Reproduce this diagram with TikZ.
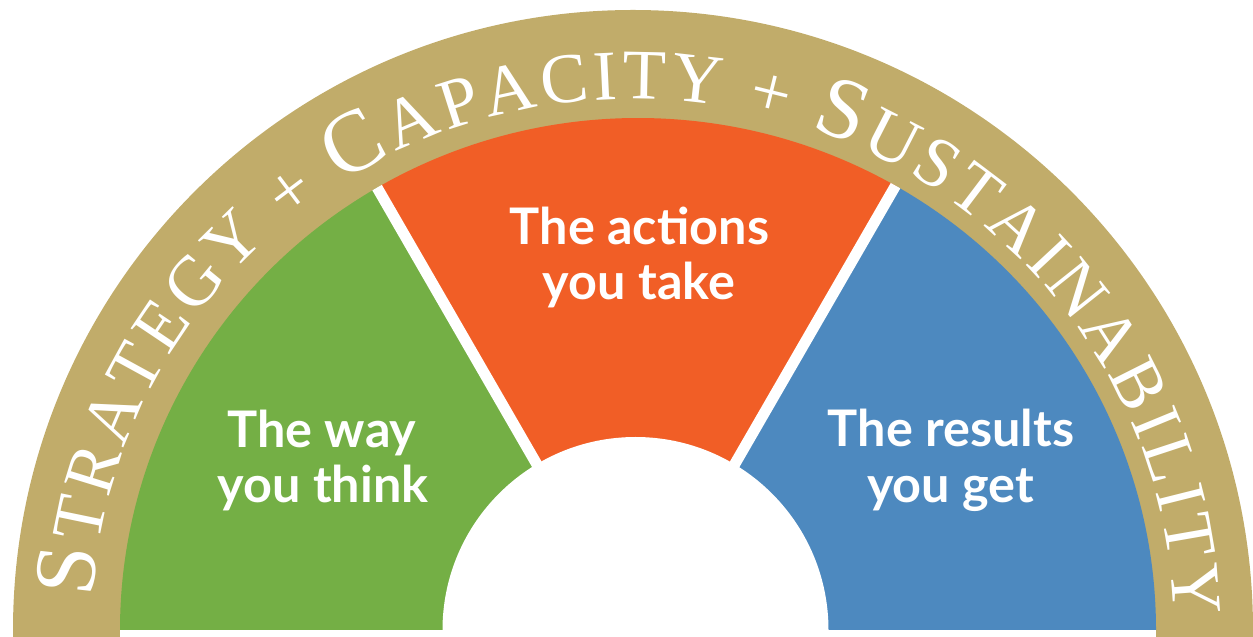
\documentclass[tikz,border=0pt]{standalone}
\usepackage{fontspec}
\setmainfont{Liberation Serif}
\newfontfamily\labelfont{Lato}
\usetikzlibrary{decorations.text,calc}
\definecolor{ringgold}{RGB}{193,172,106}
\definecolor{thinkgreen}{RGB}{116,175,69}
\definecolor{actorange}{RGB}{241,94,38}
\definecolor{resultblue}{RGB}{77,137,191}
\newcommand\ringbig{\fontsize{43.8}{43.8}\selectfont}
\newcommand\ringsmall{\fontsize{35.5}{35.5}\selectfont}
\begin{document}
\begin{tikzpicture}[x=0.5pt,y=0.5pt,
  lbl/.style={text=white, font=\labelfont\bfseries\fontsize{25.2}{30}\selectfont, inner sep=0pt, anchor=base},
  sep/.style={white, line width=5.5pt}]
\useasboundingbox (0,0) rectangle (1253,637);
\coordinate (O) at (633,7);
\coordinate (C) at (638,7);
\coordinate (W) at (635.5,7);
\coordinate (SL) at (632.5,7);
\coordinate (SR) at (639,7);
% gold ring
\fill[ringgold] (13,0) -- (13,7) arc[start angle=180,end angle=0,radius=620] -- (1253,0) -- cycle;
\fill[white] (120,0) rectangle (1156,7.2);
% sectors
\fill[thinkgreen] (C) -- ($(C)+(180:518 and 512)$) arc[start angle=180,end angle=120,x radius=518,y radius=512] -- cycle;
\fill[actorange] (C) -- ($(C)+(120:518 and 512)$) arc[start angle=120,end angle=60,x radius=518,y radius=512] -- cycle;
\fill[resultblue] (C) -- ($(C)+(60:518 and 512)$) arc[start angle=60,end angle=0,x radius=518,y radius=512] -- cycle;
% separators
\begin{scope}
\clip ($(C)+(180:518 and 512)$) arc[start angle=180,end angle=0,x radius=518,y radius=512] -- cycle;
\draw[sep] (SL) -- ++(120:600);
\draw[sep] (SR) -- ++(60:600);
\end{scope}
% inner white half disc
\fill[white] ($(W)+(180:193)$) arc[start angle=180,end angle=0,radius=193] -- cycle;
% labels
\node[lbl] (way1) at (322,189) {The way};
\node[lbl] (way2) at (323,134) {you think};
\node[lbl] (act1) at (639.5,392) {The actions};
\node[lbl] (act2) at (639,337) {you take};
\node[lbl] (res1) at (951,190) {The results};
\node[lbl] (res2) at (950.5,134) {you get};
% ring text
\path[decorate, decoration={text along path, text color=white, text align=fit to path,
  text={|\ringbig|S|\ringsmall|TRATEGY + |\ringbig|C|\ringsmall|APACITY + |\ringbig|S|\ringsmall|USTAINABILITY}}]
  ($(O)+(176.5:541 and 531)$) arc[start angle=176.5,end angle=1.5,x radius=541,y radius=531];
\end{tikzpicture}
\end{document}
